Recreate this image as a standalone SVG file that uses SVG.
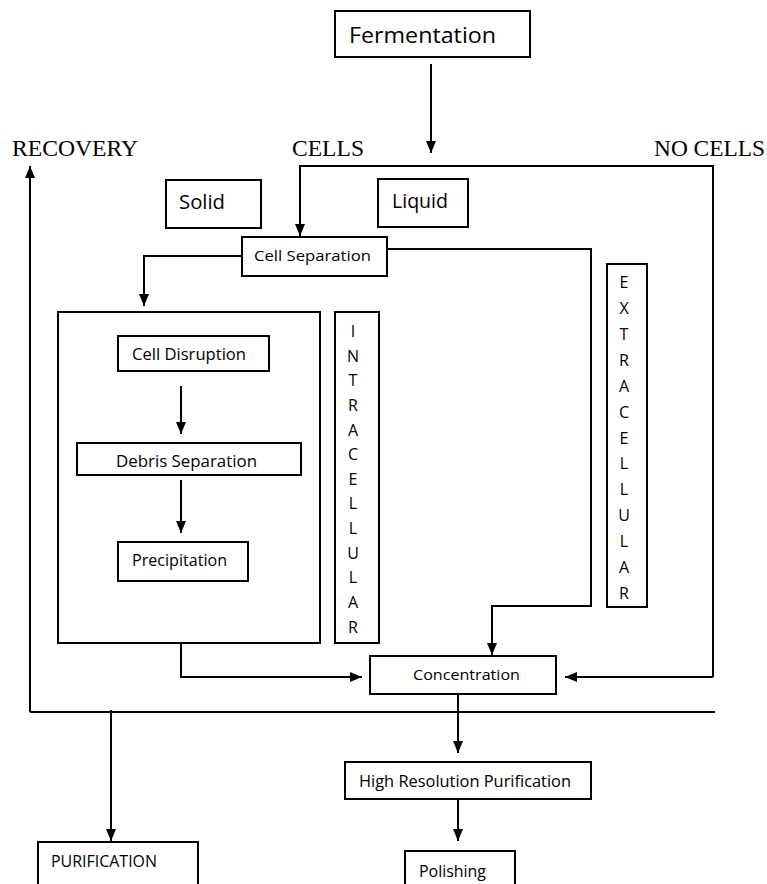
<svg xmlns="http://www.w3.org/2000/svg" width="767" height="884" viewBox="0 0 767 884">
<defs>
<marker id="ah" viewBox="0 0 12 10" refX="12" refY="5" markerWidth="12" markerHeight="10" markerUnits="userSpaceOnUse" orient="auto">
<path d="M0,0 L12,5 L0,10 z" fill="#000"/>
</marker>
<style>
.box{fill:#fff;stroke:#000;stroke-width:2}
.frame{fill:none;stroke:#000;stroke-width:2}
.ln{fill:none;stroke:#000;stroke-width:2}
.arr{fill:none;stroke:#000;stroke-width:2;marker-end:url(#ah)}
.t{font-family:"Open Sans","Noto Sans",sans-serif;fill:#000}
.s{font-family:"Liberation Serif","Times New Roman",serif;fill:#000;font-size:23px}
.v{font-family:"Open Sans","Noto Sans",sans-serif;fill:#000;font-size:16px;text-anchor:middle}
</style>
</defs>
<rect width="767" height="884" fill="#fff"/>

<g id="fermentation">
<rect class="box" x="335" y="11" width="195" height="46"/>
<text class="t" x="349" y="43" font-size="22" textLength="147" lengthAdjust="spacingAndGlyphs">Fermentation</text>
</g>

<g id="label-recovery"><text class="s" x="12" y="156" textLength="126" lengthAdjust="spacingAndGlyphs">RECOVERY</text></g>
<g id="label-cells"><text class="s" x="292" y="156" textLength="72" lengthAdjust="spacingAndGlyphs">CELLS</text></g>
<g id="label-nocells"><text class="s" x="654" y="156" textLength="111" lengthAdjust="spacingAndGlyphs">NO CELLS</text></g>

<g id="solid">
<rect class="box" x="166" y="180" width="95" height="48"/>
<text class="t" x="179" y="209" font-size="20" textLength="46" lengthAdjust="spacingAndGlyphs">Solid</text>
</g>

<g id="liquid">
<rect class="box" x="378" y="179" width="90" height="48"/>
<text class="t" x="392" y="208" font-size="20" textLength="56" lengthAdjust="spacingAndGlyphs">Liquid</text>
</g>

<g id="cell-separation">
<rect class="box" x="242" y="237" width="145" height="39"/>
<text class="t" x="254" y="261" font-size="15" textLength="117" lengthAdjust="spacingAndGlyphs">Cell Separation</text>
</g>

<g id="intracellular-group">
<rect class="frame" x="58" y="312" width="262" height="331"/>
</g>

<g id="cell-disruption">
<rect class="box" x="118" y="336" width="151" height="35"/>
<text class="t" x="132" y="360" font-size="16" textLength="114" lengthAdjust="spacingAndGlyphs">Cell Disruption</text>
</g>

<g id="debris-separation">
<rect class="box" x="77" y="443" width="224" height="32"/>
<text class="t" x="116" y="467" font-size="16" textLength="141" lengthAdjust="spacingAndGlyphs">Debris Separation</text>
</g>

<g id="precipitation">
<rect class="box" x="118" y="542" width="130" height="39"/>
<text class="t" x="132" y="566" font-size="16" textLength="95" lengthAdjust="spacingAndGlyphs">Precipitation</text>
</g>

<g id="intracellular">
<rect class="box" x="335" y="312" width="44" height="331"/>
<text class="v" x="353" y="337">I</text>
<text class="v" x="353" y="362">N</text>
<text class="v" x="353" y="386">T</text>
<text class="v" x="353" y="411">R</text>
<text class="v" x="353" y="436">A</text>
<text class="v" x="353" y="460">C</text>
<text class="v" x="353" y="485">E</text>
<text class="v" x="353" y="509">L</text>
<text class="v" x="353" y="534">L</text>
<text class="v" x="353" y="559">U</text>
<text class="v" x="353" y="583">L</text>
<text class="v" x="353" y="608">A</text>
<text class="v" x="353" y="633">R</text>
</g>

<g id="extracellular">
<rect class="box" x="607" y="264" width="40" height="343"/>
<text class="v" x="624" y="288">E</text>
<text class="v" x="624" y="314">X</text>
<text class="v" x="624" y="340">T</text>
<text class="v" x="624" y="366">R</text>
<text class="v" x="624" y="392">A</text>
<text class="v" x="624" y="418">C</text>
<text class="v" x="624" y="444">E</text>
<text class="v" x="624" y="469">L</text>
<text class="v" x="624" y="495">L</text>
<text class="v" x="624" y="521">U</text>
<text class="v" x="624" y="547">L</text>
<text class="v" x="624" y="573">A</text>
<text class="v" x="624" y="599">R</text>
</g>

<g id="concentration">
<rect class="box" x="370" y="656" width="186" height="38"/>
<text class="t" x="413" y="680" font-size="15" textLength="107" lengthAdjust="spacingAndGlyphs">Concentration</text>
</g>

<g id="high-resolution-purification">
<rect class="box" x="345" y="762" width="246" height="37"/>
<text class="t" x="359" y="787" font-size="17" textLength="212" lengthAdjust="spacingAndGlyphs">High Resolution Purification</text>
</g>

<g id="polishing">
<rect class="box" x="405" y="851" width="110" height="50"/>
<text class="t" x="419" y="877" font-size="17" textLength="67" lengthAdjust="spacingAndGlyphs">Polishing</text>
</g>

<g id="purification">
<rect class="box" x="38" y="842" width="160" height="60"/>
<text class="t" x="51" y="867" font-size="16" textLength="106" lengthAdjust="spacingAndGlyphs">PURIFICATION</text>
</g>

<g id="connectors">
<line class="arr" x1="431" y1="64" x2="431" y2="153"/>
<polyline class="arr" points="30,712 30,166"/>
<polyline class="ln" points="30,712 715,712"/>
<polyline class="arr" points="713,677 713,166 300,166 300,236"/>
<polyline class="arr" points="713,677 565,677"/>
<polyline class="arr" points="242,256 144,256 144,306"/>
<polyline class="arr" points="387,249 591,249 591,606 492,606 492,655"/>
<line class="arr" x1="181" y1="386" x2="181" y2="434"/>
<line class="arr" x1="181" y1="480" x2="181" y2="533"/>
<polyline class="arr" points="181,643 181,677 362,677"/>
<line class="arr" x1="458" y1="694" x2="458" y2="753"/>
<line class="arr" x1="458" y1="799" x2="458" y2="841"/>
<line class="arr" x1="111" y1="710" x2="111" y2="841"/>
</g>
</svg>
